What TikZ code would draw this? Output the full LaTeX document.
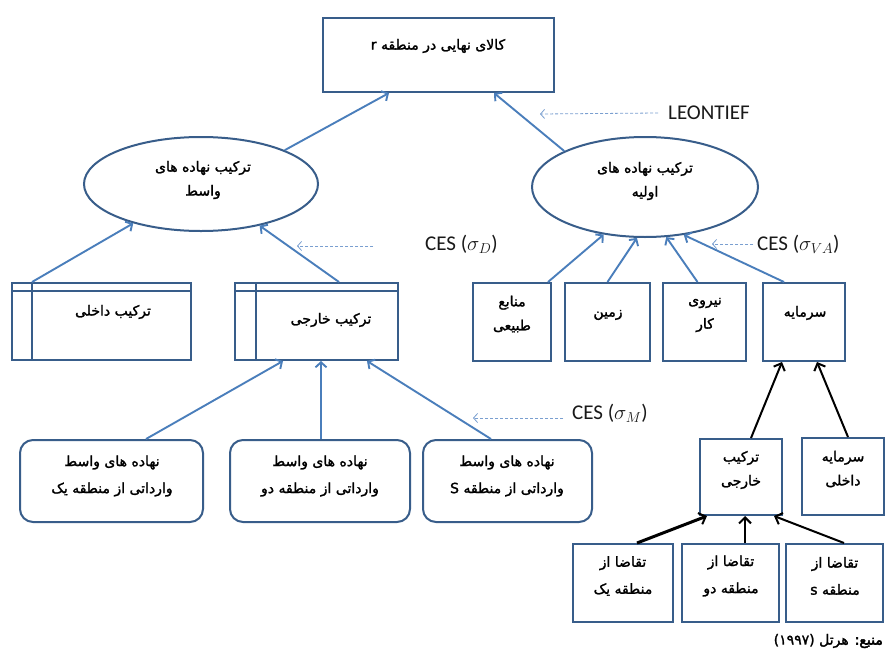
\documentclass[tikz,border=0pt]{standalone}
\usepackage{fontspec}
\usetikzlibrary{arrows.meta,calc,shapes.geometric}
\TeXXeTstate=1
\newfontfamily\fa[Script=Arabic,FakeBold=1.6]{DejaVu Sans}
\newfontfamily\fab[Script=Arabic,FakeBold=3.5]{DejaVu Sans}
\newfontfamily\calfont{Carlito}
\newcommand{\rl}[1]{\beginR #1\endR}
\definecolor{bord}{HTML}{385D8A}
\definecolor{arr}{HTML}{4A7EBB}
\definecolor{dsh}{HTML}{7A9FD0}
\tikzset{
  boxs/.style={draw=bord, line width=2pt, rectangle, inner sep=0pt},
  ells/.style={draw=bord, line width=2pt, ellipse, inner sep=0pt},
  rboxs/.style={boxs, rounded corners=13pt},
  fatext/.style={font=\fa\fontsize{14}{24}\selectfont, align=center, inner sep=0pt},
  fatextw/.style={font=\fa\fontsize{14}{27}\selectfont, align=center, inner sep=0pt},
  latext/.style={font=\calfont\fontsize{21}{24}\selectfont, inner sep=0pt, anchor=west, text=black!90},
  bluearr/.style={draw=arr, line width=1.9pt, -{Straight Barb[length=5pt,width=11pt,line width=1.9pt]}},
  dasharr/.style={draw=dsh, line width=0.8pt, dash pattern=on 3pt off 2pt, -{Straight Barb[length=4pt,width=9pt,line width=0.8pt]}},
  blkarr/.style={draw=black, line width=2pt, -{Straight Barb[length=6pt,width=12pt,line width=2pt]}}
}
\begin{document}
\begin{tikzpicture}[x=1pt,y=-1pt]
\useasboundingbox[fill=white] (0,0) rectangle (893,653);

% top box
\node[boxs, minimum width=231, minimum height=74] (top) at (438.5,55) {};
\node[fatext] (topt) at (438,46) {\rl{کالای نهایی در منطقه r}};

% ellipses
\node[ells, minimum width=234, minimum height=94] (ellL) at (201,184) {};
\node[fatext] (ellLt) at (203,180) {\rl{ترکیب نهاده های}\\\rl{واسط}};
\node[ells, minimum width=226, minimum height=100] (ellR) at (645,187) {};
\node[fatext] (ellRt) at (645,181) {\rl{ترکیب نهاده های}\\\rl{اولیه}};

% composition boxes (left)
\node[boxs, minimum width=179, minimum height=77] (dak) at (101.5,321.5) {};
\draw[bord, line width=2pt] ($(dak.north west)+(21,0)$) -- ($(dak.south west)+(21,0)$);
\draw[bord, line width=2pt] ($(dak.north west)+(0,9)$) -- ($(dak.north east)+(0,9)$);
\node[fatext] (dakt) at (113,312) {\rl{ترکیب داخلی}};
\node[boxs, minimum width=163, minimum height=77] (kha) at (316.5,321.5) {};
\draw[bord, line width=2pt] ($(kha.north west)+(22,0)$) -- ($(kha.south west)+(22,0)$);
\draw[bord, line width=2pt] ($(kha.north west)+(0,9)$) -- ($(kha.north east)+(0,9)$);
\node[fatext] (khat) at (331,320) {\rl{ترکیب خارجی}};

% primary factor boxes
\node[boxs, minimum width=78, minimum height=78] (man) at (512,322) {};
\node[fatext] (mant) at (512,314) {\rl{منابع}\\\rl{طبیعی}};
\node[boxs, minimum width=85, minimum height=78] (zam) at (607.5,322) {};
\node[fatext] (zamt) at (608,315) {\rl{زمین}};
\node[boxs, minimum width=83, minimum height=78] (nir) at (704.5,322) {};
\node[fatext] (nirt) at (705,315) {\rl{نیروی}\\\rl{کار}};
\node[boxs, minimum width=82, minimum height=78] (sar) at (804,322) {};
\node[fatext] (sart) at (805,313) {\rl{سرمایه}};

% rounded import boxes
\node[rboxs, minimum width=183, minimum height=82] (r1) at (111.5,481) {};
\node[fatextw] (r1t) at (112,476) {\rl{نهاده های واسط}\\\rl{وارداتی از منطقه یک}};
\node[rboxs, minimum width=180, minimum height=82] (r2) at (320,481) {};
\node[fatextw] (r2t) at (320,476) {\rl{نهاده های واسط}\\\rl{وارداتی از منطقه دو}};
\node[rboxs, minimum width=169, minimum height=82] (r3) at (507.5,481) {};
\node[fatextw] (r3t) at (507,476) {\rl{نهاده های واسط}\\\rl{وارداتی از منطقه S}};

% capital sub-boxes
\node[boxs, minimum width=82, minimum height=76] (khs) at (741,477) {};
\node[fatext] (khst) at (741,470) {\rl{ترکیب}\\\rl{خارجی}};
\node[boxs, minimum width=82, minimum height=77] (sard) at (843,476.5) {};
\node[fatext] (sardt) at (843,469) {\rl{سرمایه}\\\rl{داخلی}};
\node[boxs, minimum width=100, minimum height=78] (t1) at (623,583) {};
\node[fatextw] (t1t) at (623,576) {\rl{تقاضا از}\\\rl{منطقه یک}};
\node[boxs, minimum width=97, minimum height=78] (t2) at (730.5,583) {};
\node[fatextw] (t2t) at (731,576) {\rl{تقاضا از}\\\rl{منطقه دو}};
\node[boxs, minimum width=97, minimum height=78] (t3) at (834.5,583) {};
\node[fatextw] (t3t) at (835,576) {\rl{تقاضا از}\\\rl{منطقه s}};

% labels
\node[latext] (leo) at (668,113) {LEONTIEF};
\node[latext] (cesd) at (425,244) {CES ($\sigma_D$)};
\node[latext] (cesva) at (757,244) {CES ($\sigma_{VA}$)};
\node[latext] (cesm) at (572,413) {CES ($\sigma_M$)};
\node[inner sep=0pt, anchor=east] (src) at (883,641) {\fa\fontsize{14}{16}\selectfont\beginR{\fab منبع:} هرتل \beginL(۱۹۹۷)\endL\endR};

% blue connectors
\draw[bluearr] (ellL.22) -- ($(top.south west)+(67,0)$);
\draw[bluearr] (ellR.156) -- ($(top.south west)+(172,0)$);
\draw[bluearr] ($(dak.north west)+(21,0)$) -- (ellL);
\draw[bluearr] ($(kha.north west)+(105,0)$) -- (ellL);
\draw[bluearr] ($(man.north east)+(-4,0)$) -- (ellR.229);
\draw[bluearr] (zam.north) -- (ellR.261);
\draw[bluearr] ($(nir.north)+(-7,0)$) -- (ellR.293);
\draw[bluearr] ($(sar.north west)+(22,0)$) -- (ellR.309);
\draw[bluearr] ($(r1.north west)+(127,0)$) -- ($(kha.south west)+(49,0)$);
\draw[bluearr] ($(r2.north west)+(92,0)$) -- ($(kha.south west)+(87,0)$);
\draw[bluearr] ($(r3.north west)+(69,0)$) -- ($(kha.south west)+(133,0)$);

% dashed pointers
\draw[dasharr] ($(leo.west)+(-10,0)$) -- ($(leo.west)+(-128,1)$);
\draw[dasharr] ($(cesd.west)+(-52,2)$) -- ($(cesd.west)+(-128,2)$);
\draw[dasharr] ($(cesva.west)+(-4,0)$) -- ($(cesva.west)+(-45,0)$);
\draw[dasharr] ($(cesm.west)+(-9,5)$) -- ($(cesm.west)+(-99,5)$);

% black connectors
\draw[blkarr] ($(khs.north west)+(52,0)$) -- ($(sar.south west)+(20,0)$);
\draw[blkarr] ($(sard.north west)+(47,0)$) -- ($(sar.south west)+(55,0)$);
\draw[blkarr, line width=3pt] ($(t1.north west)+(65,0)$) -- ($(khs.south west)+(8,0)$);
\draw[blkarr] ($(t2.north west)+(64,0)$) -- ($(khs.south west)+(46,0)$);
\draw[blkarr] ($(t3.north west)+(59,0)$) -- ($(khs.south west)+(75,0)$);
\end{tikzpicture}
\end{document}
